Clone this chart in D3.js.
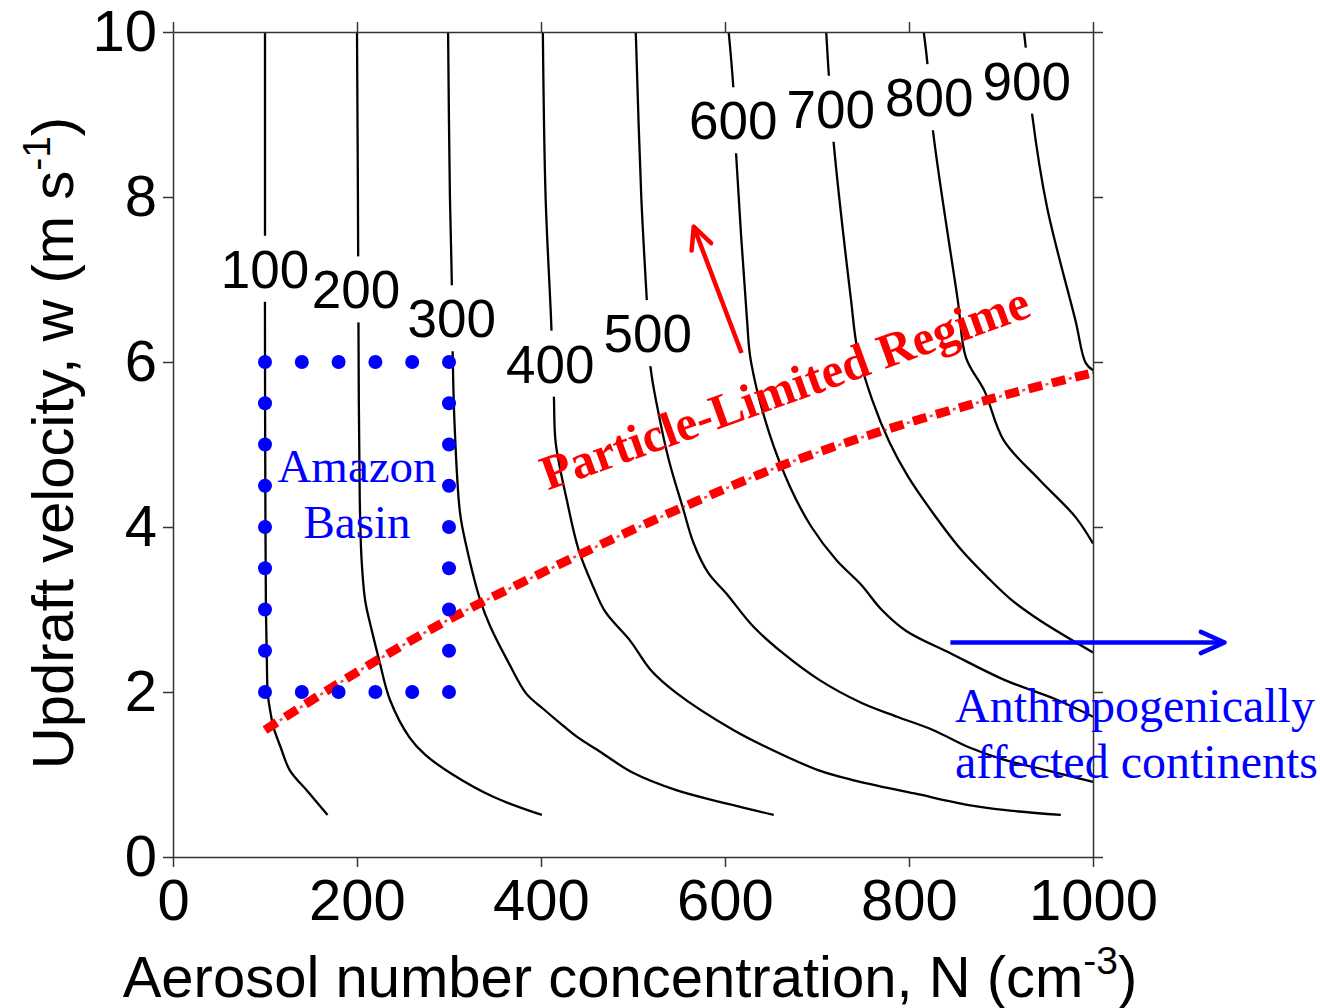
<!DOCTYPE html>
<html>
<head>
<meta charset="utf-8">
<script src="https://cdn.jsdelivr.net/npm/d3@7"></script>
<style>
  html, body { margin: 0; padding: 0; background: #fff; }
  svg { display: block; }
</style>
</head>
<body>
<svg id="chart" width="1320" height="1008"></svg>
<script>
// ---------------- data ----------------
const xTicks = [0, 200, 400, 600, 800, 1000];
const yTicks = [0, 2, 4, 6, 8, 10];
const contourLevels = [100, 200, 300, 400, 500, 600, 700, 800, 900];

// contour lines (N, w)
const c100 = [[100,10],[100,8],[100,6],[100.5,4],[101,3],[102,2.4],[103,1.98],[106,1.75],[109,1.58],[117,1.33],[127,1.05],[146,0.8],[168,0.51]];
const c200 = [[200,10],[201,8],[202,5.5],[203,4.33],[205,3.6],[209,3.1],[216,2.75],[224,2.39],[236,1.9],[257,1.45],[274,1.24],[304,1.0],[348,0.73],[401,0.51]];
const c300 = [[299,10],[301,8],[303,7.0],[304,6.1],[306,5.26],[312,4.17],[319,3.76],[334,3.11],[345,2.79],[365,2.35],[384,1.98],[402,1.8],[420,1.63],[440,1.45],[461,1.3],[500,1.02],[547,0.81],[601,0.65],[653,0.51]];
const c400 = [[402,10],[405,8],[411,6.5],[414,5.58],[416,5.02],[428,4.33],[441,3.72],[457,3.27],[470,2.97],[497,2.62],[519,2.27],[547,1.99],[609,1.54],[651,1.3],[702,1.05],[740,0.93],[806,0.77],[865,0.63],[903,0.57],[965,0.51]];
const c500 = [[503,10],[509,8],[515,6.75],[519,5.94],[527,5.42],[539,4.81],[554,4.24],[566,3.8],[582,3.44],[601,3.2],[631,2.79],[663,2.47],[702,2.15],[748,1.87],[787,1.7],[826,1.54],[865,1.33],[903,1.18],[950,1.05],[1000,0.91]];
const c600 = [[604,10],[609,9.33],[612,8.53],[624,6.5],[628,6.02],[648,5.14],[671,4.48],[694,4.0],[721,3.6],[748,3.3],[770,3.0],[797,2.74],[845,2.47],[903,2.15],[962,1.9],[1000,1.7]];
const c700 = [[710,10],[713,9.45],[718,8.67],[737,6.75],[744,6.15],[760,5.54],[779,5.02],[799,4.61],[826,4.17],[857,3.72],[888,3.36],[911,3.12],[942,2.87],[1000,2.48]];
const c800 = [[816,10],[820,9.62],[826,8.81],[853,6.75],[862,6.05],[882,5.65],[903,5.05],[942,4.57],[981,4.12],[1000,3.8]];
const c900 = [[925,10],[927,9.8],[934,8.99],[950,7.88],[981,6.5],[992,5.99],[1000,5.9]];
const contourLines = [c100, c200, c300, c400, c500, c600, c700, c800, c900];

// contour label anchor points (N, w)
const labelN = [100, 199, 303, 410, 516, 609, 715, 822, 928];
const labelW = [7.13, 6.88, 6.53, 5.98, 6.35, 8.93, 9.07, 9.21, 9.41];

// particle-limited regime boundary
const regimeN = [100, 200, 300, 400, 550, 670, 775, 885, 1000];
const regimeW = [1.54, 2.24, 2.88, 3.44, 4.22, 4.78, 5.18, 5.54, 5.87];

// Amazon Basin range (blue dots)
const dotN = [100,140,180,220,260,300, 100,140,180,220,260,300,
              100,100,100,100,100,100,100, 300,300,300,300,300,300,300];
const dotW = [6,6,6,6,6,6, 2,2,2,2,2,2,
              5.5,5,4.5,4,3.5,3,2.5, 5.5,5,4.5,4,3.5,3,2.5];

// ---------------- layout ----------------
const svg = d3.select("#chart");
const x = d3.scaleLinear().domain([0, 1000]).range([173, 1093]);
const y = d3.scaleLinear().domain([0, 10]).range([857, 32]);
const sans = "Arial, 'Liberation Sans', sans-serif";
const serif = "'Times New Roman', 'Liberation Serif', serif";
const axisColor = "#333";

svg.append("rect").attr("width", 1320).attr("height", 1008).attr("fill", "#fff");

// contour lines
const line = d3.line().x(d => x(d[0])).y(d => y(d[1])).curve(d3.curveCatmullRom.alpha(0.5));
svg.append("g").selectAll("path").data(contourLines).join("path")
  .attr("d", line).attr("fill", "none").attr("stroke", "#000").attr("stroke-width", 2.3);

// contour labels with white gaps
const lblG = svg.append("g");
contourLevels.forEach((lv, i) => {
  const g = lblG.append("g");
  const t = g.append("text")
    .attr("x", x(labelN[i])).attr("y", y(labelW[i])).attr("dy", "0.36em")
    .attr("text-anchor", "middle")
    .attr("font-family", sans).attr("font-size", 53)
    .attr("fill", "#000").text(lv);
  const bb = t.node().getBBox();
  g.insert("rect", "text")
    .attr("x", bb.x + 4).attr("width", bb.width - 8)
    .attr("y", y(labelW[i]) - 33).attr("height", 66)
    .attr("fill", "#fff");
});

// red dash-dot regime line
const rLine = d3.line().x((d, i) => x(regimeN[i])).y((d, i) => y(regimeW[i])).curve(d3.curveMonotoneX);
svg.append("path").attr("d", rLine(regimeN))
  .attr("fill", "none").attr("stroke", "#ff0000").attr("stroke-width", 9)
  .attr("stroke-dasharray", "14 10");
svg.append("path").attr("d", rLine(regimeN))
  .attr("fill", "none").attr("stroke", "#ff0000").attr("stroke-width", 2.5)
  .attr("stroke-opacity", 0.75)
  .attr("stroke-dasharray", "3 21").attr("stroke-dashoffset", 6.5);

// blue dots
svg.append("g").selectAll("circle").data(dotN).join("circle")
  .attr("cx", d => x(d)).attr("cy", (d, i) => y(dotW[i])).attr("r", 7)
  .attr("fill", "#0000ff");

// axes
const fmt = d3.format("d");
const axB = svg.append("g").attr("transform", `translate(0,${y(0)})`)
  .call(d3.axisBottom(x).tickValues(xTicks).tickFormat(fmt).tickSize(10).tickSizeOuter(0).tickPadding(12));
const axT = svg.append("g").attr("transform", `translate(0,${y(10)})`)
  .call(d3.axisTop(x).tickValues(xTicks).tickSize(10).tickSizeOuter(0).tickFormat(""));
const axL = svg.append("g").attr("transform", `translate(${x(0)},0)`)
  .call(d3.axisLeft(y).tickValues(yTicks).tickFormat(fmt).tickSize(10).tickSizeOuter(0).tickPadding(6));
const axR = svg.append("g").attr("transform", `translate(${x(1000)},0)`)
  .call(d3.axisRight(y).tickValues(yTicks).tickSize(10).tickSizeOuter(0).tickFormat(""));
[axB, axT, axL, axR].forEach(a => {
  a.selectAll("path.domain").attr("stroke", axisColor).attr("stroke-width", 1.5);
  a.selectAll(".tick line").attr("stroke", axisColor).attr("stroke-width", 1.5);
  a.selectAll("text").attr("font-family", sans).attr("font-size", 58).attr("fill", "#000");
});

// axis titles
const xt = svg.append("text").attr("x", 630).attr("y", 997)
  .attr("text-anchor", "middle").attr("font-family", sans).attr("font-size", 58).attr("fill", "#000");
xt.append("tspan").text("Aerosol number concentration, N (cm");
xt.append("tspan").attr("dy", -23).attr("font-size", 39).text("-3");
xt.append("tspan").attr("dy", 23).text(")");

const yt = svg.append("text").attr("transform", "translate(73,443) rotate(-90)")
  .attr("text-anchor", "middle").attr("font-family", sans).attr("font-size", 58).attr("fill", "#000");
yt.append("tspan").text("Updraft velocity, w (m s");
yt.append("tspan").attr("dy", -23).attr("font-size", 39).text("-1");
yt.append("tspan").attr("dy", 23).text(")");

// Amazon Basin label
svg.append("text").attr("x", x(200)).attr("y", y(4.55)).attr("text-anchor", "middle")
  .attr("font-family", serif).attr("font-size", 47).attr("fill", "#0000ff").text("Amazon");
svg.append("text").attr("x", x(200)).attr("y", y(3.87)).attr("text-anchor", "middle")
  .attr("font-family", serif).attr("font-size", 47).attr("fill", "#0000ff").text("Basin");

// Particle-limited regime label + arrow
svg.append("text")
  .attr("transform", `translate(${x(671)},${y(5.5)}) rotate(-19.8)`)
  .attr("text-anchor", "middle").attr("font-family", serif).attr("font-weight", "bold")
  .attr("font-size", 49).attr("fill", "#ff0000").text("Particle-Limited Regime");

function arrow(x1, y1, x2, y2, color, w, headLen, headAng) {
  const g = svg.append("g").attr("stroke", color).attr("stroke-width", w)
    .attr("fill", "none").attr("stroke-linecap", "round").attr("stroke-linejoin", "round");
  g.append("line").attr("x1", x1).attr("y1", y1).attr("x2", x2).attr("y2", y2).attr("stroke-linecap", "butt");
  const a = Math.atan2(y2 - y1, x2 - x1);
  const p1 = [x2 - headLen * Math.cos(a - headAng), y2 - headLen * Math.sin(a - headAng)];
  const p2 = [x2 - headLen * Math.cos(a + headAng), y2 - headLen * Math.sin(a + headAng)];
  g.append("path").attr("d", `M${p1[0]},${p1[1]}L${x2},${y2}L${p2[0]},${p2[1]}`);
}
arrow(x(618), y(6.11), x(566), y(7.64), "#ff0000", 4.5, 24, 0.45);
arrow(x(845), y(2.6), x(1143), y(2.6), "#0000ff", 4.5, 26, 0.42);

// Anthropogenic label
svg.append("text").attr("x", x(850)).attr("y", y(1.636))
  .attr("font-family", serif).attr("font-size", 48).attr("fill", "#0000ff").text("Anthropogenically");
svg.append("text").attr("x", x(850)).attr("y", y(0.958))
  .attr("font-family", serif).attr("font-size", 48).attr("fill", "#0000ff").text("affected continents");
</script>
</body>
</html>
